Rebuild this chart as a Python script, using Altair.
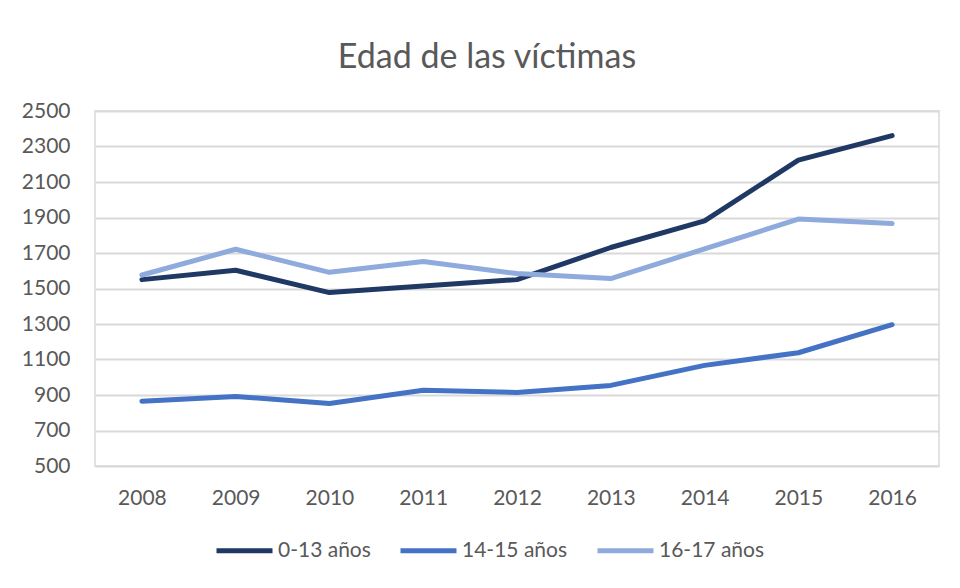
import altair as alt
import pandas as pd

years = ["2008", "2009", "2010", "2011", "2012", "2013", "2014", "2015", "2016"]
series_names = ["0-13 años", "14-15 años", "16-17 años"]
v_0_13 = [1550, 1603, 1477, 1514, 1550, 1731, 1881, 2223, 2361]
v_14_15 = [865, 892, 852, 927, 914, 954, 1067, 1138, 1296]
v_16_17 = [1576, 1721, 1591, 1652, 1584, 1556, 1723, 1891, 1866]
colors = ["#203864", "#4472c4", "#8faadc"]
y_ticks = [500, 700, 900, 1100, 1300, 1500, 1700, 1900, 2100, 2300, 2500]

rows = []
for name, vals in zip(series_names, [v_0_13, v_14_15, v_16_17]):
    for yr, v in zip(years, vals):
        rows.append({"Año": yr, "Serie": name, "Valor": v})
df = pd.DataFrame(rows)

FONT = "Lato"
TXT = "#595959"

chart = alt.Chart(df).mark_line(strokeWidth=5, strokeCap="round", strokeJoin="round").encode(
    x=alt.X("Año:O", scale=alt.Scale(type="point", padding=0.5),
            axis=alt.Axis(title=None, labelAngle=0, domain=False, ticks=False,
                          labelPadding=21, labelFontSize=21, labelColor=TXT, labelFont=FONT)),
    y=alt.Y("Valor:Q", scale=alt.Scale(domain=[500, 2500], nice=False, zero=False),
            axis=alt.Axis(title=None, values=y_ticks, format="d", domain=False, ticks=False,
                          labelPadding=25, labelFontSize=21, labelColor=TXT, labelFont=FONT,
                          gridColor="#d9d9d9", gridWidth=2)),
    color=alt.Color("Serie:N", scale=alt.Scale(domain=series_names, range=colors),
                    legend=alt.Legend(title=None, orient="none", direction="horizontal",
                                      legendX=119, legendY=409,
                                      symbolType="stroke", symbolSize=3136, symbolStrokeWidth=5,
                                      labelFontSize=21, labelColor=TXT, labelFont=FONT,
                                      labelOffset=3, columnPadding=19)),
    order=alt.Order("Año:O"),
).properties(
    width=844,
    height=355,
    title=alt.TitleParams("Edad de las víctimas", fontSize=34, font=FONT, fontWeight="normal",
                          color=TXT, anchor="middle", dx=-30, offset=-9, baseline="bottom"),
    autosize=alt.AutoSizeParams(type="none"),
    padding={"left": 87, "top": 103, "right": 13, "bottom": 114},
).configure_view(stroke="#d9d9d9", strokeWidth=1.5)

chart.save("out.html", embed_options={"renderer": "svg", "actions": False})
